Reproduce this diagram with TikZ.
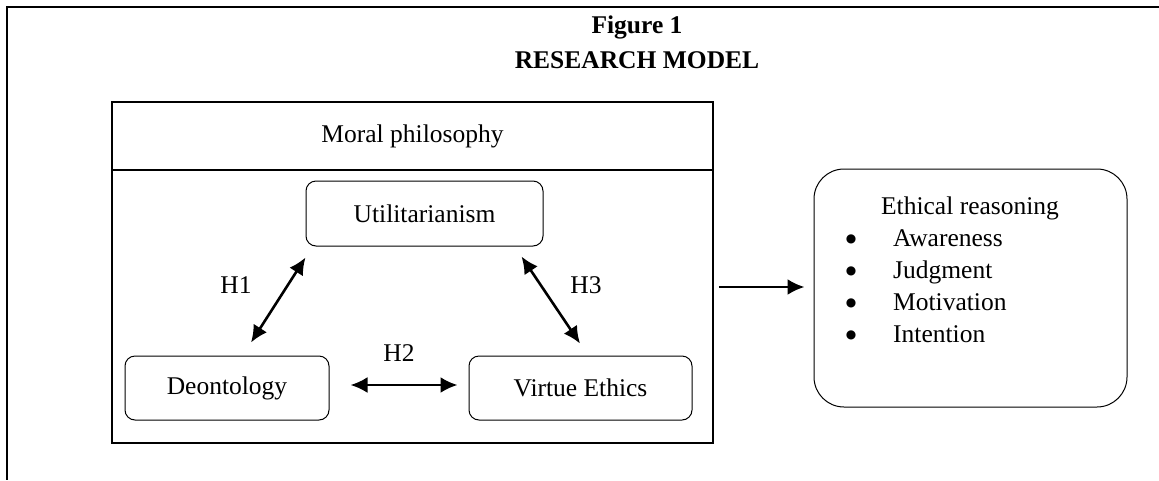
\documentclass[tikz,border=0pt]{standalone}
\usepackage{fontspec}
\setmainfont{Liberation Serif}
\newfontfamily\bulfont{DejaVu Sans}
\usetikzlibrary{calc,arrows.meta}
\begin{document}
\begin{tikzpicture}[x=1pt,y=-1pt,
  every node/.style={font=\fontsize{25.5}{30}\selectfont, inner sep=0pt},
  sqbox/.style={draw, line width=1.8pt},
  rbox/.style={draw, line width=1pt, rounded corners=10pt},
  bul/.style={font=\bulfont\fontsize{12}{14}\selectfont, anchor=center},
  conn/.style={line width=2.6pt, {Latex[length=17pt,width=16pt]}-{Latex[length=17pt,width=16pt]}},
  oneway/.style={line width=2.6pt, -{Latex[length=17pt,width=16pt]}}
]
\useasboundingbox (0,0) rectangle (1159,480);
% outer frame
\coordinate (frTR) at (1159,7);
\coordinate (frTL) at (7,7);
\coordinate (frBL) at (7,480);
\draw[line width=2.6pt] (frTR) -- (frTL) -- (frBL);
% title
\node[anchor=base, font=\fontsize{25.5}{30}\selectfont\bfseries] (fig) at (637,33) {Figure 1};
\node[anchor=base, font=\fontsize{25.5}{30}\selectfont\bfseries] (rm) at (637,68) {RESEARCH MODEL};
% moral philosophy box
\node[sqbox, minimum width=601pt, minimum height=68pt] (mph) at (412.5,136) {Moral philosophy};
\node[sqbox, minimum width=601pt, minimum height=273pt] (mbody) at (412.5,306.5) {};
% inner boxes
\node[rbox, minimum width=237pt, minimum height=65pt] (util) at (424.5,213.5) {Utilitarianism};
\node[rbox, minimum width=204pt, minimum height=64pt] (deon) at (227,388) {Deontology};
\node[rbox, minimum width=223pt, minimum height=64pt] (virt) at (580.5,388) {Virtue Ethics};
% arrows
\draw[conn] ($(deon.north)+(24,-13)$) -- ($(util.south west)+(0,11)$);
\draw[conn] ($(util.south east)+(-22,10)$) -- ($(virt.north)+(-0.5,-12)$);
\draw[conn] ($(deon.east)+(21,-3)$) -- ($(virt.west)+(-11,-3)$);
\node (h1) at (236,285) {H1};
\node (h2) at (399,353) {H2};
\node (h3) at (586,285) {H3};
% ethical reasoning
\node[draw, line width=1pt, rounded corners=30pt, minimum width=313pt, minimum height=238pt] (eth) at (970.5,288) {};
\draw[oneway] ($(mbody.east)+(5,-19.5)$) -- ($(eth.west)+(-9,-1)$);
\node[anchor=base] (ethT) at (970,214) {Ethical reasoning};
\node[bul] (b1) at (851,239) {●};
\node[bul] (b2) at (851,271) {●};
\node[bul] (b3) at (851,303) {●};
\node[bul] (b4) at (851,335) {●};
\node[anchor=base west] (i1) at (893,246) {Awareness};
\node[anchor=base west] (i2) at (893,278) {Judgment};
\node[anchor=base west] (i3) at (893,310) {Motivation};
\node[anchor=base west] (i4) at (893,342) {Intention};
\end{tikzpicture}
\end{document}
